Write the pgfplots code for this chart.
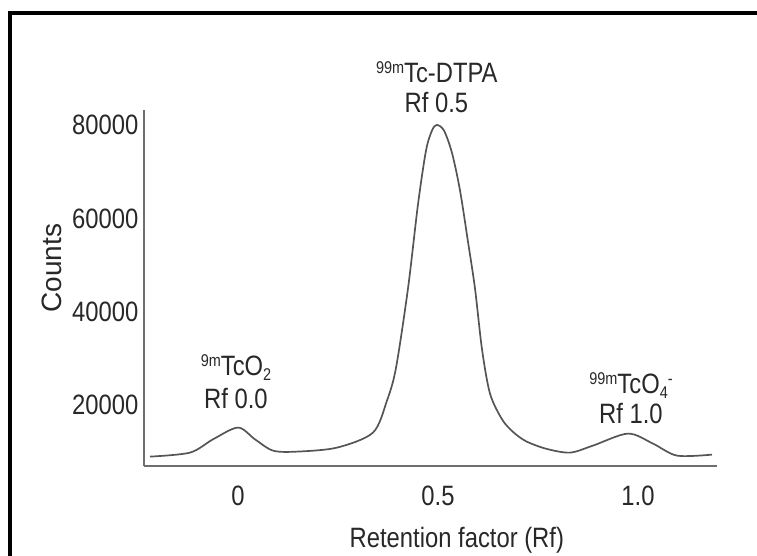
\documentclass[border=0pt]{standalone}
\usepackage{pgfplots}
\pgfplotsset{compat=1.18}
\usepackage{fontspec}
\setmainfont{Liberation Sans}[FakeStretch=0.85]
\newfontfamily\plainfont{Liberation Sans}
\definecolor{txt}{RGB}{40,40,40}
\definecolor{crv}{RGB}{85,85,85}
\definecolor{axl}{RGB}{110,110,110}
\newcommand\sups[1]{\raisebox{4.5pt}{\fontsize{8.5}{9}\selectfont #1}}
\newcommand\subs[1]{\raisebox{-2.5pt}{\fontsize{8.5}{9}\selectfont #1}}
\pgfplotstableread{
x y
-0.22 9005
-0.12 9862
-0.0625 12708
0 15222
0.0425 12708
0.0875 10291
0.1475 10077
0.2475 10934
0.3375 14150
0.3725 21011
0.395 28000
0.425 45000
0.45 63000
0.47 74500
0.485 78800
0.497 80000
0.515 78800
0.535 74000
0.555 66000
0.575 55000
0.5925 45000
0.61 32000
0.63 22500
0.66 17000
0.6875 14300
0.72 12300
0.77 10700
0.83 9862
0.8875 11363
0.975 13936
1.0375 11792
1.0975 9219
1.185 9434
}\datatable
\begin{document}
\fontsize{14}{17}\selectfont
\begin{tikzpicture}
\begin{axis}[
  at={(0,0)}, anchor=south west,
  scale only axis, width=286.5pt, height=178pt,
  xmin=-0.235, xmax=1.1975, ymin=7000, ymax=83200,
  axis x line*=bottom, axis y line*=left,
  axis line style={axl, line width=0.75pt, -},
  xtick={0,0.5,1}, xticklabels={0,0.5,1.0},
  ytick={20000,40000,60000,80000}, yticklabels={20000,40000,60000,80000},
  scaled y ticks=false, scaled x ticks=false,
  major tick length=0pt, tick style={draw=none},
  /pgf/number format/assume math mode=true,
  ticklabel style={text=txt},
  xticklabel style={yshift=-5pt},
  yticklabel style={xshift=2pt},
  clip=false,
]
\addplot[crv, line width=0.85pt, smooth] table[x=x,y=y] {\datatable};
\node[rotate=90, text=txt, font=\plainfont] at (rel axis cs:-0.16,0.556) {Counts};
\node[text=txt] at (rel axis cs:0.546,-0.208) {Retention factor (Rf)};
\node[text=txt, anchor=base] at (axis cs:0.497,89000) {\sups{99m}Tc-DTPA};
\node[text=txt, anchor=base] at (axis cs:0.496,82570) {Rf 0.5};
\node[text=txt, anchor=base] at (axis cs:-0.005,26460) {\sups{9m}TcO\subs{2}};
\node[text=txt, anchor=base] at (axis cs:-0.005,19390) {Rf 0.0};
\node[text=txt, anchor=base] at (axis cs:0.9825,22610) {\sups{99m}TcO\subs{4}\sups{-}};
\node[text=txt, anchor=base] at (axis cs:0.9825,16180) {Rf 1.0};
\end{axis}
\draw[line width=2pt, black] (-66.75pt,-45pt) -- (-66.75pt,226.5pt) -- (306.5pt,226.5pt);
\pgfresetboundingbox
\path[use as bounding box] (-72pt,-45pt) rectangle (306.5pt,233pt);
\end{tikzpicture}
\end{document}
